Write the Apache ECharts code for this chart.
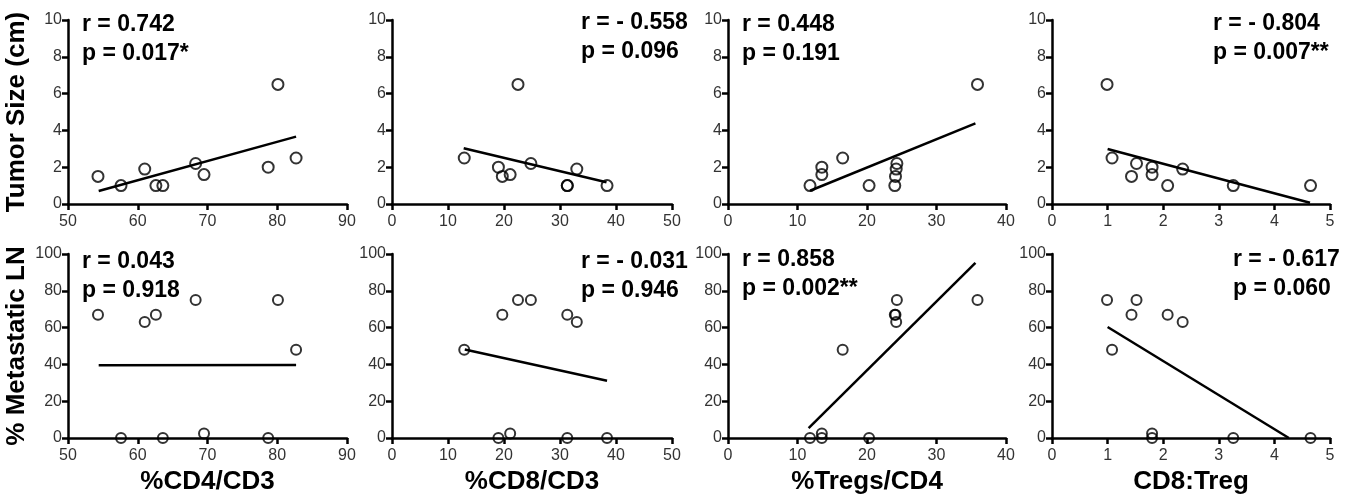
<!DOCTYPE html>
<html>
<head>
<meta charset="utf-8">
<script src="https://cdn.jsdelivr.net/npm/echarts@6.0.0/dist/echarts.min.js"></script>
<style>
html,body{margin:0;padding:0;background:#fff}
#main{width:1352px;height:496px}
</style>
</head>
<body>
<div id="main"></div>
<script>
// per patient values (10 patients)
var cd4cd3    = [54.3, 57.6, 61.0, 62.6, 63.6, 68.3, 69.5, 78.7, 80.1, 82.7];
var cd8cd3    = [19.7, 31.3, 33.0, 31.3, 38.4, 24.8, 21.1, 19.0, 22.5, 12.9];
var tregCd4   = [24.1, 11.8, 24.2, 24.0, 20.3, 24.3, 13.5, 13.5, 35.9, 16.5];
var cd8Treg   = [1.43, 4.65, 2.35, 2.08, 3.26, 1.52, 1.80, 1.80, 0.99, 1.08];
var tumorSize = [1.5, 1.0, 1.9, 1.0, 1.0, 2.2, 1.6, 2.0, 6.5, 2.5];
var metLN     = [67, 0, 63, 67, 0, 75, 2.5, 0, 75, 48];

// regression line end points
var fitSize = [
    [[54.4, 0.71], [82.7, 3.66]],
    [[12.8, 3.03], [38.3, 1.18]],
    [[11.8, 0.72], [35.6, 4.38]],
    [[1.0, 2.99], [4.64, 0.07]]
];
var fitLN = [
    [[54.4, 39.6], [82.7, 39.7]],
    [[13.0, 48.1], [38.4, 31.1]],
    [[11.6, 5.4], [35.6, 95.2]],
    [[1.0, 60.3], [4.26, 0]]
];

var rText = ['r = 0.742', 'r = - 0.558', 'r = 0.448', 'r = - 0.804',
             'r = 0.043', 'r = - 0.031', 'r = 0.858', 'r = - 0.617'];
var pText = ['p = 0.017*', 'p = 0.096', 'p = 0.191', 'p = 0.007**',
             'p = 0.918', 'p = 0.946', 'p = 0.002**', 'p = 0.060'];

var xNames = ['%CD4/CD3', '%CD8/CD3', '%Tregs/CD4', 'CD8:Treg'];
var xRanges = [[50, 90, 10], [0, 50, 10], [0, 40, 10], [0, 5, 1]];
var yNames = ['Tumor Size (cm)', '% Metastatic LN'];
var yRanges = [[0, 10, 2], [0, 100, 20]];

var xVals = [cd4cd3, cd8cd3, tregCd4, cd8Treg];
var yVals = [tumorSize, metLN];
var fits = [fitSize, fitLN];

// layout
var lefts = [68, 392, 728, 1052];
var widths = [279, 280, 278, 278];
var tops = [20, 254];
var heights = [184, 187];
var textPos = [
    [82, 25], [581, 23], [742, 25], [1213, 24],
    [82, 262], [581, 262], [742, 260], [1233, 260]
];

var FONT = '"Liberation Sans", Arial, sans-serif';

function pair(xs, ys) {
    return xs.map(function (x, i) { return [x, ys[i]]; });
}

function axisBase(margin) {
    return {
        axisLine: {show: true, onZero: false, lineStyle: {color: '#000', width: 2.5}},
        axisTick: {show: true, length: 6, lineStyle: {color: '#000', width: 2.5}},
        axisLabel: {color: '#333', fontSize: 16, fontFamily: FONT, margin: margin},
        splitLine: {show: false}
    };
}

var grid = [], xAxis = [], yAxis = [], series = [], graphic = [];

for (var r = 0; r < 2; r++) {
    for (var c = 0; c < 4; c++) {
        var k = r * 4 + c;
        grid.push({left: lefts[c], top: tops[r], width: widths[c], height: heights[r]});
        xAxis.push(Object.assign(axisBase(10), {
            gridIndex: k, type: 'value',
            min: xRanges[c][0], max: xRanges[c][1], interval: xRanges[c][2],
            name: r === 1 ? xNames[c] : '',
            nameLocation: 'middle', nameGap: 31,
            nameTextStyle: {color: '#000', fontSize: 26, fontWeight: 'bold', fontFamily: FONT}
        }));
        yAxis.push(Object.assign(axisBase(6), {
            gridIndex: k, type: 'value',
            min: yRanges[r][0], max: yRanges[r][1], interval: yRanges[r][2],
            name: c === 0 ? yNames[r] : '',
            nameLocation: 'middle', nameGap: 38,
            nameTextStyle: {color: '#000', fontSize: 26, fontWeight: 'bold', fontFamily: FONT}
        }));
        series.push({
            type: 'scatter', xAxisIndex: k, yAxisIndex: k,
            symbol: 'circle', symbolSize: r === 0 ? 11 : 10,
            itemStyle: {color: 'rgba(255,255,255,0)', borderColor: '#000', borderWidth: 2},
            data: pair(xVals[c], yVals[r]),
            z: 3
        });
        series.push({
            type: 'line', xAxisIndex: k, yAxisIndex: k,
            symbol: 'none',
            lineStyle: {color: '#000', width: 2.5},
            data: fits[r][c],
            z: 2
        });
        graphic.push({
            type: 'text', x: textPos[k][0], y: textPos[k][1],
            style: {text: rText[k], fill: '#000', font: 'bold 23px ' + FONT, verticalAlign: 'middle'}
        });
        graphic.push({
            type: 'text', x: textPos[k][0], y: textPos[k][1] + 29,
            style: {text: pText[k], fill: '#000', font: 'bold 23px ' + FONT, verticalAlign: 'middle'}
        });
    }
}

var myChart = echarts.init(document.getElementById('main'));
myChart.setOption({
    backgroundColor: '#fff',
    animation: false,
    grid: grid,
    xAxis: xAxis,
    yAxis: yAxis,
    series: series,
    graphic: graphic
});
</script>
</body>
</html>
